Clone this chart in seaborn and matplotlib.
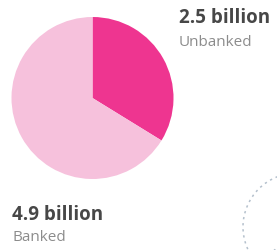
import matplotlib
matplotlib.use("Agg")
import matplotlib.pyplot as plt
import seaborn as sns
import numpy as np
from matplotlib.patches import Circle, Arc

sns.set_theme(style="white")
plt.rcParams['font.family'] = ['Open Sans', 'DejaVu Sans']

categories = ["Unbanked", "Banked"]
values = [2.5, 4.9]
value_labels = ["2.5 billion", "4.9 billion"]
colors = ["#ee3590", "#f6c1dc"]

W, H = 277, 251
fig = plt.figure(figsize=(W / 100, H / 100), dpi=100)
ax = fig.add_axes([0, 0, 1, 1])

ax.pie(values, colors=colors, startangle=90, counterclock=False,
       center=(92.5, H - 99), radius=81,
       wedgeprops=dict(linewidth=0, antialiased=True))
ax.set_xlim(0, W)
ax.set_ylim(0, H)
ax.set_aspect('equal')
ax.axis('off')

# labels
ax.text(179, H - 18, value_labels[0], fontsize=13.5, fontweight='bold',
        color='#474747', va='center', ha='left')
ax.text(179, H - 42, categories[0], fontsize=11, color='#8c8c8c',
        va='center', ha='left')
ax.text(12, H - 215, value_labels[1], fontsize=13.5, fontweight='bold',
        color='#474747', va='center', ha='left')
ax.text(12, H - 238, categories[1], fontsize=11, color='#8c8c8c',
        va='center', ha='left')

# decorative dotted circle (partial icon at bottom right)
ax.add_patch(Circle((297, H - 228), 54, fill=False, edgecolor='#b4c0cc',
                    linestyle=(0, (1.5, 2.5)), linewidth=1.1))
ax.add_patch(Arc((300, H - 275), 70, 70, theta1=95, theta2=150,
                 edgecolor='#b4c0cc', linestyle=(0, (1.5, 2.5)), linewidth=1.1))

fig.savefig("out.png", dpi=100)
